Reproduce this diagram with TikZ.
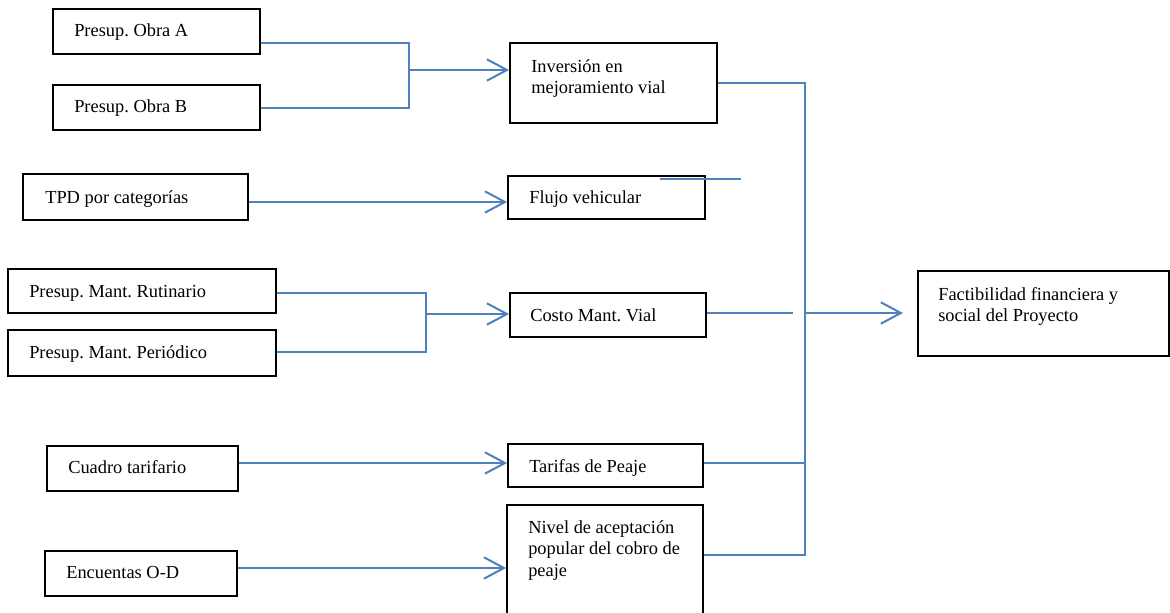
\documentclass[tikz,border=0pt]{standalone}
\usepackage{fontspec}
\setmainfont{Liberation Serif}
\usetikzlibrary{arrows.meta,calc,fit}
\definecolor{conn}{RGB}{79,129,189}
\frenchspacing
\begin{document}
\begin{tikzpicture}[x=0.75pt,y=-0.75pt,
  box/.style={draw=black,line width=1.4pt,inner sep=0pt,rectangle},
  txt/.style={anchor=base west,inner sep=0pt,align=left,font=\fontsize{13.8}{16.1}\selectfont},
  conline/.style={draw=conn,line width=1.3pt},
  conarrow/.style={draw=conn,line width=1.7pt,-{Straight Barb[length=15pt,width=16pt,line width=1.5pt]}}]
\useasboundingbox (0,0) rectangle (1170,613);
\fill[white] (0,0) rectangle (1170,613);
\clip (0,0) rectangle (1170,613);
% left boxes
\node[box,fit={(53,9) (260,54)}] (oa) {};
\node[box,fit={(53,85) (260,130)}] (ob) {};
\node[box,fit={(23,174) (248,220)}] (tpd) {};
\node[box,fit={(8,269) (276,313)}] (rut) {};
\node[box,fit={(8,330) (276,376)}] (per) {};
\node[box,fit={(47,446) (238,491)}] (cua) {};
\node[box,fit={(45,551) (237,596)}] (enc) {};
% middle boxes
\node[box,fit={(510,43) (717,123)}] (inv) {};
\node[box,fit={(508,176) (705,219)}] (flu) {};
\node[box,fit={(510,293) (706,337)}] (cos) {};
\node[box,fit={(508,444) (703,487)}] (tar) {};
\node[box,fit={(507,505) (703,620)}] (niv) {};
% right box
\node[box,fit={(918,271) (1169,356)}] (fac) {};
% texts
\node[txt] (toa) at (74,37) {Presup. Obra A};
\node[txt] (tob) at (74,113) {Presup. Obra B};
\node[txt] (ttpd) at (45,203) {TPD por categorías};
\node[txt] (trut) at (29,297) {Presup. Mant. Rutinario};
\node[txt] (tper) at (29,358) {Presup. Mant. Periódico};
\node[txt] (tcua) at (68,473) {Cuadro tarifario};
\node[txt] (tenc) at (66,578) {Encuentas O-D};
\node[txt] (tinv) at (531,93.5) {Inversión en\\mejoramiento vial};
\node[txt] (tflu) at (529,203) {Flujo vehicular};
\node[txt] (tcos) at (530,321) {Costo Mant. Vial};
\node[txt] (ttar) at (529,472) {Tarifas de Peaje};
\node[txt] (tniv) at (528,576) {Nivel de aceptación\\popular del cobro de\\peaje};
\node[txt] (tfac) at (938,321.5) {Factibilidad financiera y\\social del Proyecto};
% junctions
\coordinate (jo) at (409,70);
\coordinate (jm) at (426,314);
\coordinate (bt) at (805,83);
\coordinate (bb) at (805,555);
\coordinate (bm) at (805,463);
\coordinate (cg) at (793,313);
\coordinate (fs) at (806,313);
\coordinate (fe) at (903,313);
\coordinate (s1) at (660,179);
\coordinate (s2) at (741,179);
% obra connectors
\draw[conline] ($(oa.south east)+(0,-12)$) -| (jo);
\draw[conline] ($(ob.east)+(0,0.5)$) -| (jo);
\draw[conarrow] (jo) -- (inv.west |- jo);
% tpd
\draw[conarrow] ($(tpd.east)+(0,5)$) -- ($(flu.west)+(0,4.5)$);
\draw[conline] (s1) -- (s2);
% mantenimiento
\draw[conline] ($(rut.east)+(0,2)$) -| (jm);
\draw[conline] ($(per.east)+(0,-1)$) -| (jm);
\draw[conarrow] (jm) -- (cos.west |- jm);
% tarifas
\draw[conarrow] ($(cua.east)+(0,-5.5)$) -- (tar.west |- 0,463);
\draw[conarrow] ($(enc.east)+(0,-5.5)$) -- (niv.west |- 0,568);
% bus
\draw[conline] (inv.east) -- (bt) -- (bb) -- (niv.east |- bb);
\draw[conline] (tar.east |- bm) -- (bm);
\draw[conline] (cos.east |- cg) -- (cg);
\draw[conarrow] (fs) -- (fe);
\end{tikzpicture}
\end{document}
